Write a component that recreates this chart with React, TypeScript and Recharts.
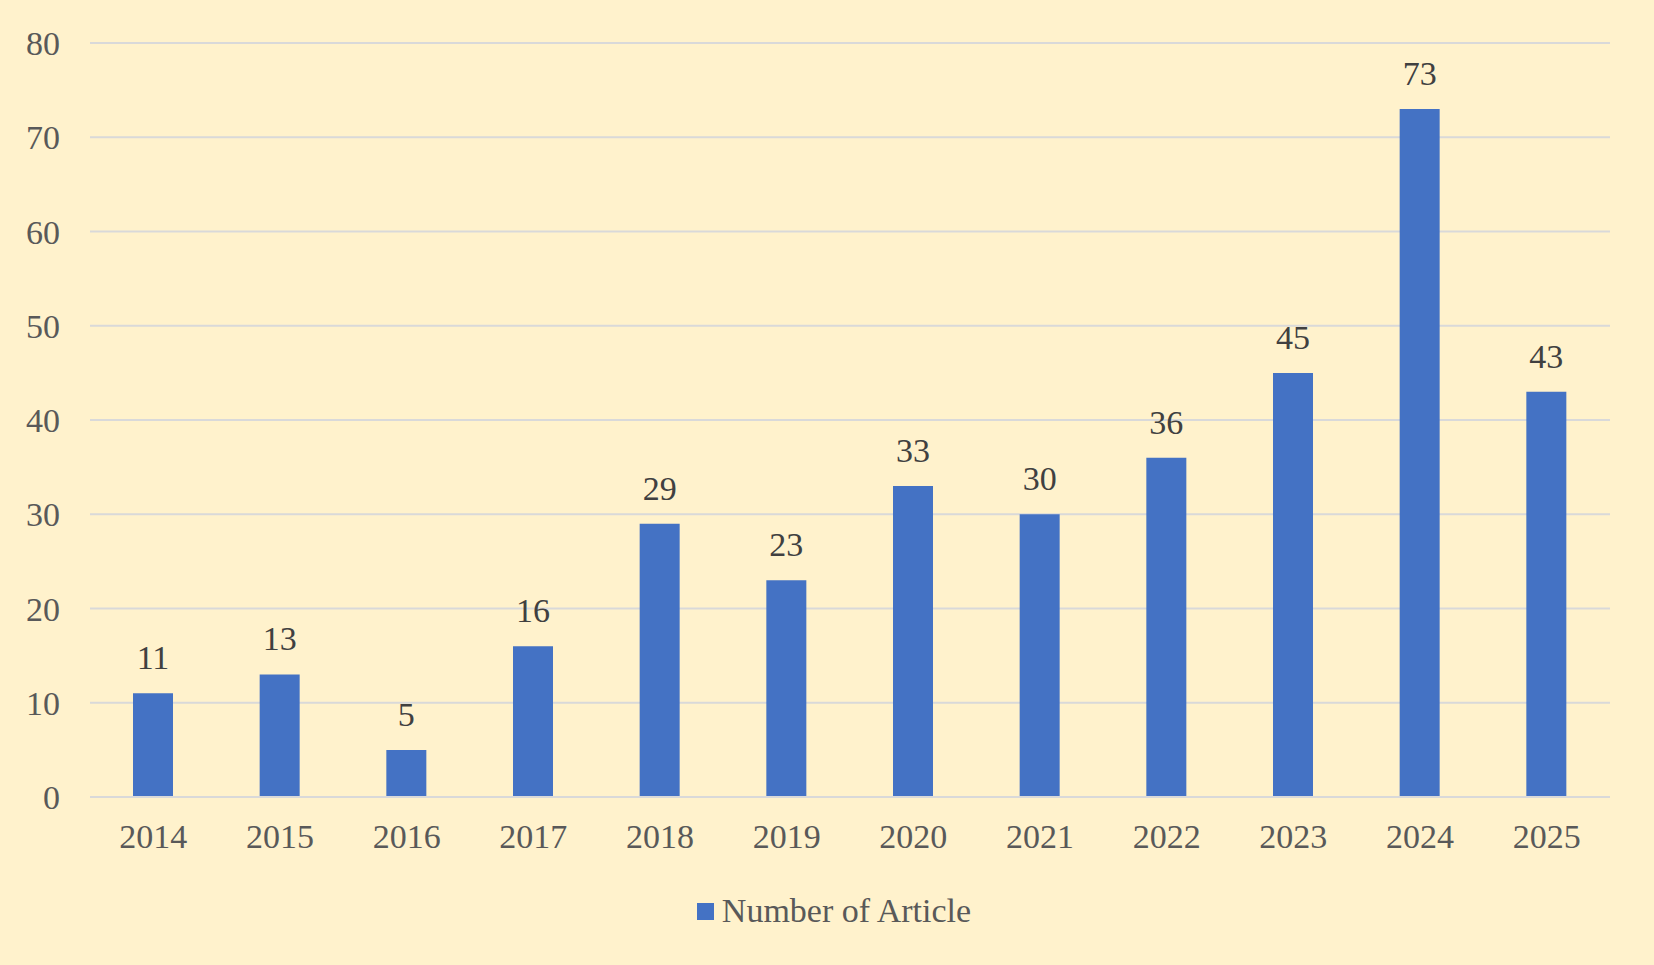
import React from 'react';
import { BarChart, Bar, XAxis, YAxis, CartesianGrid, Legend, LabelList } from 'recharts';

// Articles per year
const years = ['2014', '2015', '2016', '2017', '2018', '2019', '2020', '2021', '2022', '2023', '2024', '2025'];
const articles = [11, 13, 5, 16, 29, 23, 33, 30, 36, 45, 73, 43];
const yTicks = [0, 10, 20, 30, 40, 50, 60, 70, 80];

const data = years.map((year, i) => ({ year, articles: articles[i] }));

const FONT = '"Liberation Serif", "Times New Roman", serif';
const BG = '#FFF2CC';
const BAR = '#4472C4';
const GRID = '#D9D9D9';

const LegendContent = () => (
  <div
    style={{
      display: 'flex',
      justifyContent: 'center',
      alignItems: 'center',
      fontFamily: FONT,
      fontSize: 34,
      color: '#595959',
      lineHeight: '40px',
      paddingLeft: 58,
      position: 'relative',
      top: -4,
    }}
  >
    <span style={{ display: 'inline-block', width: 17, height: 17, background: BAR, marginRight: 8 }} />
    <span>Number of Article</span>
  </div>
);

export default function App() {
  return (
    <div style={{ position: 'absolute', left: 0, top: 0, width: 1654, height: 965, background: BG }}>
      <BarChart
        width={1654}
        height={965}
        data={data}
        margin={{ top: 43, right: 44, left: 0, bottom: 30 }}
        barSize={40}
      >
        <CartesianGrid vertical={false} stroke={GRID} strokeWidth={2} />
        <XAxis
          dataKey="year"
          axisLine={{ stroke: GRID, strokeWidth: 2 }}
          tickLine={false}
          tickSize={0}
          tickMargin={27}
          height={98}
          tick={{ fill: '#595959', fontSize: 34, fontFamily: FONT }}
        />
        <YAxis
          domain={[0, 80]}
          ticks={yTicks}
          axisLine={false}
          tickLine={false}
          tickSize={0}
          tickMargin={30}
          width={90}
          tick={{ fill: '#595959', fontSize: 34, fontFamily: FONT }}
        />
        <Legend verticalAlign="bottom" content={<LegendContent />} />
        <Bar dataKey="articles" name="Number of Article" fill={BAR} isAnimationActive={false}>
          <LabelList
            dataKey="articles"
            position="top"
            offset={24}
            fill="#404040"
            fontSize={34}
            fontFamily={FONT}
          />
        </Bar>
      </BarChart>
    </div>
  );
}
